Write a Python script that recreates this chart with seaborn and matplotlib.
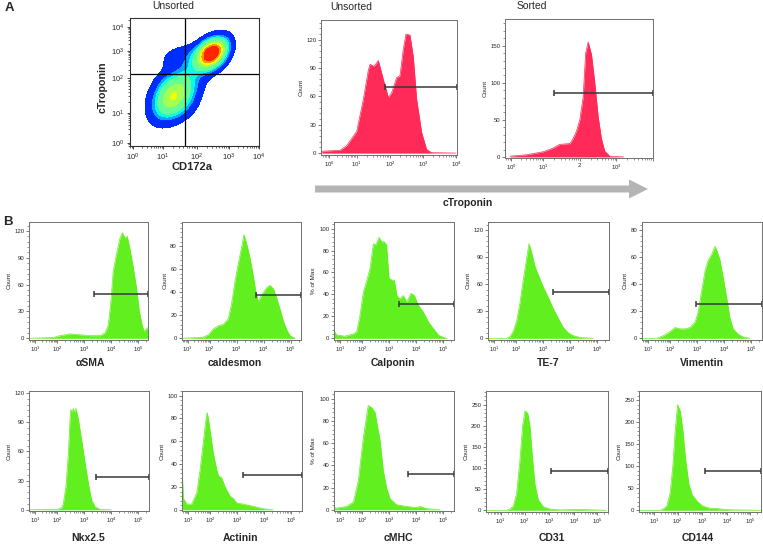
import numpy as np
import matplotlib
matplotlib.use("Agg")
import matplotlib.pyplot as plt
from matplotlib.patches import FancyArrow
from matplotlib.ticker import AutoMinorLocator
import seaborn as sns

# ---------------------------------------------------------------- data
# panel A : density plot, populations (log10 centre, log10 spread, corr, weight)
dens_center_x = [1.29, 2.47, 1.85, 1.60]
dens_center_y = [1.46, 2.93, 2.20, 2.75]
dens_sigma_x = [0.40, 0.30, 0.55, 0.45]
dens_sigma_y = [0.42, 0.37, 0.75, 0.35]
dens_rho = [0.30, 0.35, 0.80, 0.20]
dens_weight = [0.55, 1.00, 0.12, 0.10]
dens_gate_x = 1.65
dens_gate_y = 2.15

# panel A : cTroponin histograms (x = log10 intensity)
unsorted_log = [-0.26, 0.40, 0.64, 0.88, 1.00, 1.20, 1.35, 1.40, 1.52, 1.65, 1.80, 1.95,
                2.05, 2.20, 2.30, 2.40, 2.48, 2.60, 2.70, 2.80, 2.95, 3.10, 3.25, 4.00]
unsorted_count = [2, 3, 8, 18, 23, 57, 88, 94, 92, 98, 78, 59,
                  64, 80, 82, 110, 126, 125, 102, 57, 22, 4, 0.5, 0]
unsorted_gate = (1.86, 70)

sorted_log = [-0.03, 0.49, 1.00, 1.27, 1.45, 1.73, 1.82, 1.91, 2.00, 2.09, 2.16, 2.23,
              2.32, 2.41, 2.50, 2.59, 2.68, 2.82, 3.20]
sorted_count = [1, 3, 7, 12, 17, 18, 25, 35, 50, 80, 140, 155,
                138, 100, 55, 25, 8, 1, 0]
sorted_gate = (1.30, 86)

# panel B : marker histograms
asma_log = [0.73, 1.82, 2.10, 2.47, 2.84, 3.21, 3.58, 3.77, 3.89, 3.98, 4.07, 4.20,
            4.32, 4.41, 4.51, 4.59, 4.69, 4.81, 4.94, 5.04, 5.14, 5.21, 5.35]
asma_count = [0, 1, 3, 5, 4, 3, 3, 6, 15, 40, 75, 95,
              112, 118, 112, 114, 100, 80, 55, 30, 15, 8, 12]

caldesmon_log = [0.73, 1.71, 1.94, 2.13, 2.32, 2.50, 2.69, 2.81, 2.94, 3.06, 3.19, 3.27,
                 3.37, 3.49, 3.61, 3.71, 3.80, 3.93, 4.11, 4.23, 4.36, 4.48, 4.61, 4.73,
                 4.86, 4.99, 5.17]
caldesmon_count = [0, 1, 3, 8, 11, 12, 17, 30, 50, 65, 80, 90,
                   82, 70, 55, 40, 32, 38, 44, 46, 43, 35, 25, 15,
                   7, 2, 0]

calponin_log = [0.73, 0.85, 1.23, 1.60, 1.76, 1.91, 2.05, 2.17, 2.30, 2.42, 2.51, 2.63,
                2.73, 2.82, 2.91, 3.00, 3.10, 3.20, 3.29, 3.41, 3.53, 3.66, 3.81, 3.94,
                4.09, 4.27, 4.46, 4.64, 4.83, 5.01, 5.14]
calponin_pct = [7, 3, 2, 4, 6, 21, 42, 52, 64, 86, 85, 92,
                88, 88, 85, 55, 53, 53, 39, 36, 39, 33, 41, 39,
                30, 24, 15, 9, 3, 1, 0]

te7_log = [0.74, 1.58, 1.73, 1.88, 2.03, 2.15, 2.27, 2.40, 2.48, 2.58, 2.70, 2.83,
           3.01, 3.20, 3.38, 3.57, 3.75, 3.94, 4.12, 4.37, 4.86]
te7_count = [0, 0, 2, 8, 20, 40, 65, 90, 105, 95, 80, 70,
             57, 45, 33, 22, 12, 6, 3, 1, 0]

vimentin_log = [0.73, 1.40, 1.70, 2.00, 2.19, 2.37, 2.56, 2.74, 2.93, 3.05, 3.17, 3.30,
                3.42, 3.54, 3.67, 3.75, 3.85, 3.97, 4.10, 4.22, 4.34, 4.53, 4.71, 4.96]
vimentin_count = [0, 0, 2, 5, 8, 7, 7, 8, 12, 20, 35, 50,
                  58, 62, 68, 64, 58, 45, 30, 15, 7, 3, 1, 0]

nkx_log = [0.73, 2.00, 2.16, 2.22, 2.32, 2.41, 2.47, 2.50, 2.55, 2.59, 2.64, 2.69,
           2.78, 2.90, 3.03, 3.15, 3.27, 3.40, 3.58, 4.00]
nkx_count = [0, 0.5, 2, 6, 24, 58, 93, 103, 100, 104, 100, 104,
             93, 72, 48, 27, 10, 3, 0.5, 0]

actinin_log = [0.73, 0.79, 0.94, 1.17, 1.40, 1.55, 1.70, 1.82, 1.88, 2.00, 2.12, 2.25,
               2.31, 2.43, 2.56, 2.74, 2.86, 2.99, 3.23, 3.60, 3.97, 4.34]
actinin_count = [38, 10, 5, 5, 15, 35, 60, 80, 85, 70, 50, 35,
                 30, 28, 20, 12, 10, 6, 5, 3, 1, 0]

cmhc_log = [0.73, 0.83, 1.30, 1.61, 1.83, 2.05, 2.23, 2.36, 2.48, 2.67, 2.79, 2.91,
            3.04, 3.28, 3.66, 4.03, 4.15, 4.40, 4.89]
cmhc_pct = [2, 1.5, 3, 7, 26, 65, 94, 92, 88, 62, 35, 20,
            10, 4.5, 3, 2, 3, 1, 0]

cd31_log = [0.38, 1.25, 1.39, 1.53, 1.67, 1.81, 1.92, 2.02, 2.13, 2.22, 2.33, 2.43,
            2.56, 2.77, 3.04, 3.44, 4.26, 4.84, 5.40]
cd31_count = [0, 0, 3, 10, 40, 120, 200, 235, 230, 200, 120, 60,
              25, 8, 3, 1, 2, 1, 0]

cd144_log = [0.38, 1.25, 1.39, 1.54, 1.68, 1.79, 1.89, 1.99, 2.10, 2.21, 2.31, 2.45,
             2.59, 2.80, 3.00, 3.27, 3.60, 3.87, 4.29, 5.47]
cd144_count = [0, 0, 3, 10, 40, 100, 180, 240, 225, 180, 120, 60,
               35, 20, 10, 5, 4, 2, 1, 0]

marker_names = ["αSMA", "caldesmon", "Calponin", "TE-7", "Vimentin",
                "Nkx2.5", "Actinin", "cMHC", "CD31", "CD144"]
marker_gate_log = [3.35, 3.73, 3.38, 3.37, 2.97, 3.44, 3.22, 3.72, 3.08, 3.10]
marker_gate_level = [49.4, 37.6, 31, 51, 25.4, 33.7, 30.5, 32.4, 94, 89]
marker_ylabel = ["Count", "Count", "% of Max", "Count", "Count",
                 "Count", "Count", "% of Max", "Count", "Count"]
marker_ymax = [130, 101, 106, 129, 86, 122, 104, 107, 282, 271]
marker_ystep = [30, 20, 20, 30, 20, 30, 20, 20, 50, 50]
marker_ytop = [120, 80, 100, 120, 80, 120, 100, 100, 250, 250]

# ---------------------------------------------------------------- layout helpers
W, H = 763, 544
RED = "#ff2a57"
GREEN = "#62ef20"
GATE = "#383838"


def px_axes(fig, left, top, right, bottom):
    return fig.add_axes([left / W, 1 - bottom / H, (right - left) / W, (bottom - top) / H])


def to_pos(v, dec_log, dec_pos):
    v = np.atleast_1d(np.asarray(v, float))
    out = np.interp(v, dec_log, dec_pos)
    s0 = (dec_pos[1] - dec_pos[0]) / (dec_log[1] - dec_log[0])
    s1 = (dec_pos[-1] - dec_pos[-2]) / (dec_log[-1] - dec_log[-2])
    lo = v < dec_log[0]
    hi = v > dec_log[-1]
    out[lo] = dec_pos[0] + (v[lo] - dec_log[0]) * s0
    out[hi] = dec_pos[-1] + (v[hi] - dec_log[-1]) * s1
    return out


def log_axis(ax, which, dec_log, dec_pos, lim, labels, size):
    majors = to_pos(dec_log, dec_log, dec_pos)
    minors = []
    for d in range(int(dec_log[0]) - 1, int(dec_log[-1]) + 1):
        for k in range(2, 10):
            p = to_pos(d + np.log10(k), dec_log, dec_pos)[0]
            if lim[0] <= p <= lim[1]:
                minors.append(p)
    if which == "x":
        ax.set_xlim(*lim)
        ax.set_xticks(majors)
        ax.set_xticklabels(labels, fontsize=size)
        ax.set_xticks(minors, minor=True)
    else:
        ax.set_ylim(*lim)
        ax.set_yticks(majors)
        ax.set_yticklabels(labels, fontsize=size)
        ax.set_yticks(minors, minor=True)


def hist_panel(ax, logs, counts, dec_log, dec_pos, xlim, labels, color,
               ylim, ystep, ytop, ylabel, gate_log, gate_level, tick_size=4.3):
    xs = to_pos(logs, dec_log, dec_pos)
    ax.fill_between(xs, counts, 0, color=color, lw=0)
    sns.lineplot(x=xs, y=counts, ax=ax, color=color, lw=0.5, sort=False, estimator=None)
    log_axis(ax, "x", dec_log, dec_pos, xlim, labels, tick_size)
    ax.set_ylim(*ylim)
    ax.set_yticks(np.arange(0, ytop + 1, ystep))
    ax.yaxis.set_minor_locator(AutoMinorLocator(5))
    ax.tick_params(axis="y", labelsize=tick_size)
    ax.set_ylabel(ylabel, fontsize=4.6, labelpad=2)
    ax.set_xlabel("")
    g0 = to_pos(gate_log, dec_log, dec_pos)[0]
    ax.plot([g0, xlim[1]], [gate_level, gate_level], color=GATE, lw=1.1,
            solid_capstyle="butt", clip_on=False)
    ax.plot([g0, xlim[1]], [gate_level, gate_level], ls="none", marker="|", ms=4,
            mew=1.1, color=GATE, clip_on=False)
    for s in ax.spines.values():
        s.set_color("#707070")
        s.set_linewidth(0.7)
    ax.tick_params(which="major", direction="out", length=2.2, width=0.5, pad=1.2,
                   color="#444444")
    ax.tick_params(which="minor", direction="out", length=1.2, width=0.4, color="#444444")


# ---------------------------------------------------------------- figure
sns.set_theme(style="ticks")
plt.rcParams["font.family"] = ["Liberation Sans", "DejaVu Sans"]
plt.rcParams["mathtext.fontset"] = "custom"
plt.rcParams["mathtext.rm"] = "Liberation Sans"
plt.rcParams["mathtext.it"] = "Liberation Sans:italic"
plt.rcParams["mathtext.bf"] = "Liberation Sans:bold"

fig = plt.figure(figsize=(W / 100, H / 100), dpi=100)
fig.patch.set_facecolor("white")

# density plot
dx_log, dx_pos = [0, 1, 2, 3, 4], [3, 33, 67, 99, 129]
dy_log, dy_pos = [0, 1, 2, 3, 4], [3, 33, 68, 95, 119]
ax = px_axes(fig, 130, 18, 259, 146)
lx = np.linspace(-0.3, 4.2, 400)
ly = np.linspace(-0.3, 4.5, 400)
LX, LY = np.meshgrid(lx, ly)
dens = np.zeros_like(LX)
for cx, cy, sx, sy, r, w in zip(dens_center_x, dens_center_y, dens_sigma_x,
                                dens_sigma_y, dens_rho, dens_weight):
    ux = (LX - cx) / sx
    uy = (LY - cy) / sy
    dens += w * np.exp(-0.5 * (ux ** 2 - 2 * r * ux * uy + uy ** 2) / (1 - r ** 2))
dens /= dens.max()
cmap = plt.get_cmap("jet")
levels = [0.045, 0.15, 0.21, 0.28, 0.44, 0.56, 0.66, 0.77, 2.0]
shades = [0.17, 0.29, 0.37, 0.47, 0.55, 0.64, 0.75, 0.87]
ax.contourf(to_pos(lx, dx_log, dx_pos), to_pos(ly, dy_log, dy_pos), dens,
            levels=levels, colors=[cmap(s) for s in shades])
ax.axvline(to_pos(dens_gate_x, dx_log, dx_pos)[0], color="black", lw=0.9)
ax.axhline(to_pos(dens_gate_y, dy_log, dy_pos)[0], color="black", lw=0.9)
dec_labels = [f"$10^{{{d}}}$" for d in range(5)]
log_axis(ax, "x", dx_log, dx_pos, (0, 129), dec_labels, 5.5)
log_axis(ax, "y", dy_log, dy_pos, (0, 128), dec_labels, 5.5)
for s in ax.spines.values():
    s.set_color("#333333")
    s.set_linewidth(0.8)
ax.tick_params(which="major", direction="out", length=2.5, width=0.6, pad=1.5)
ax.tick_params(which="minor", direction="out", length=1.4, width=0.5)

# unsorted / sorted cTroponin
ax = px_axes(fig, 321, 20, 457, 155)
hist_panel(ax, unsorted_log, unsorted_count, [0, 1, 2, 3, 4], [8, 35.7, 69, 102.3, 135],
           (0, 136), dec_labels, RED, (-2, 141), 30, 120, "Count",
           unsorted_gate[0], unsorted_gate[1])

ax = px_axes(fig, 505, 19, 653, 158)
hist_panel(ax, sorted_log, sorted_count, [0, 1, 2, 3, 4], [6, 38.3, 75, 111.7, 148.4],
           (0, 148), ["$10^{0}$", "$10^{1}$", "2", "$10^{3}$", ""], RED, (-1.4, 186),
           50, 150, "Count", sorted_gate[0], sorted_gate[1])

# panel B
marker_logs = [asma_log, caldesmon_log, calponin_log, te7_log, vimentin_log,
               nkx_log, actinin_log, cmhc_log, cd31_log, cd144_log]
marker_vals = [asma_count, caldesmon_count, calponin_pct, te7_count, vimentin_count,
               nkx_count, actinin_count, cmhc_pct, cd31_count, cd144_count]
boxes = [(29.3, 222, 147.7, 339.5), (181.7, 222, 300.7, 339.5), (334, 222, 454, 339.5),
         (488, 222, 609, 339.5), (642, 222, 762, 339.5),
         (29.3, 391, 149, 511), (182, 391, 302, 511), (334, 391, 454, 511),
         (486, 391, 608, 511.5), (639.3, 391, 761, 511.5)]
b_labels = [f"$10^{{{d}}}$" for d in range(1, 6)]
for i in range(10):
    l, t, r, b = boxes[i]
    dec_pos = [14.7, 38.5, 63, 88, 111] if i >= 8 else [6, 28, 55, 82, 109]
    ax = px_axes(fig, l, t, r, b)
    hist_panel(ax, marker_logs[i], marker_vals[i], [1, 2, 3, 4, 5], dec_pos,
               (0, r - l), b_labels, GREEN,
               (-marker_ymax[i] * 0.01, marker_ymax[i]), marker_ystep[i], marker_ytop[i],
               marker_ylabel[i], marker_gate_log[i], marker_gate_level[i])

# overlay for free text and arrow
ov = fig.add_axes([0, 0, 1, 1])
ov.set_xlim(0, W)
ov.set_ylim(H, 0)
ov.axis("off")
ov.patch.set_alpha(0)
ov.add_patch(FancyArrow(315, 189, 333, 0, width=7, head_width=19, head_length=19,
                        length_includes_head=True, color="#b4b4b4", lw=0))
ov.text(5, 8, "A", fontsize=9.5, fontweight="bold", ha="left", va="center")
ov.text(3, 222, "B", fontsize=9.5, fontweight="bold", ha="left", va="center")
ov.text(173, 6, "Unsorted", fontsize=7.5, ha="center", va="center")
ov.text(351, 7, "Unsorted", fontsize=7.5, ha="center", va="center")
ov.text(532, 6, "Sorted", fontsize=7.5, ha="center", va="center")
ov.text(468, 203, "cTroponin", fontsize=7.5, fontweight="bold", ha="center", va="center")
ov.text(103, 87, "cTroponin", fontsize=7.7, fontweight="bold", rotation=90,
        ha="center", va="center")
ov.text(192, 167, "CD172a", fontsize=8, fontweight="bold", ha="center", va="center")
label_x = [90, 235, 393, 548, 702, 88, 240, 398, 552, 698]
for i in range(10):
    ov.text(label_x[i], 363 if i < 5 else 538, marker_names[i], fontsize=7.5,
            fontweight="bold", ha="center", va="center")

fig.savefig("out.png", dpi=100, facecolor="white")
